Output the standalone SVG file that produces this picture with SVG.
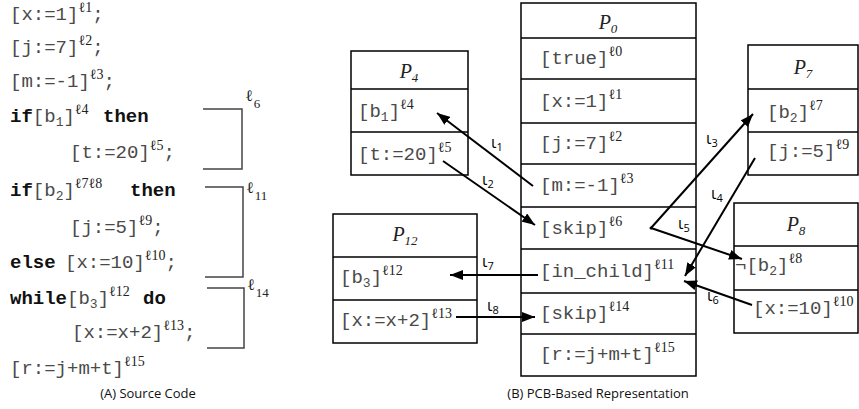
<svg xmlns="http://www.w3.org/2000/svg" width="859" height="409" viewBox="0 0 859 409">
<defs>
<style>
.box{fill:none;stroke:#000;stroke-width:1.5}
.m{font-family:"Liberation Mono","DejaVu Sans Mono",monospace;font-size:19px;fill:#4a4a4a}
.b{font-weight:bold;fill:#111}
.sup{font-family:"Liberation Serif","DejaVu Serif",serif;font-size:14px;fill:#222}
.sub{font-size:13px}
.hdr{font-family:"Liberation Serif","DejaVu Serif",serif;font-style:italic;font-size:20px;fill:#222}
.hs{font-size:13px}
.lbl{font-family:"Open Sans","DejaVu Sans",sans-serif;font-size:16px;fill:#000}
.ls{font-size:11px}
.cap{font-family:"Open Sans","DejaVu Sans",sans-serif;font-size:13px;fill:#111}
.conn{stroke:#000;stroke-width:2;fill:none;marker-end:url(#ah)}
.brk{stroke:#444;stroke-width:1.5;fill:none}
.bl{font-family:"Liberation Serif","DejaVu Serif",serif;font-size:16px;fill:#222}
</style>
<marker id="ah" markerUnits="userSpaceOnUse" markerWidth="13" markerHeight="10" refX="13" refY="5" orient="auto">
<path d="M0,0 L13,5 L0,10 z" fill="#000"/>
</marker>
</defs>

<g id="source-code">
<text class="m" x="10" y="20">[x:=1]<tspan class="sup" dy="-8">ℓ1</tspan><tspan dy="8">;</tspan></text>
<text class="m" x="10" y="53">[j:=7]<tspan class="sup" dy="-8">ℓ2</tspan><tspan dy="8">;</tspan></text>
<text class="m" x="10" y="87">[m:=-1]<tspan class="sup" dy="-8">ℓ3</tspan><tspan dy="8">;</tspan></text>
<text class="m" x="10" y="122"><tspan class="b">if</tspan>[b<tspan class="sub" dy="4">1</tspan><tspan dy="-4">]</tspan><tspan class="sup" dy="-8">ℓ4</tspan><tspan class="b" x="103" dy="8">then</tspan></text>
<text class="m" x="70" y="158">[t:=20]<tspan class="sup" dy="-8">ℓ5</tspan><tspan dy="8">;</tspan></text>
<text class="m" x="10" y="196"><tspan class="b">if</tspan>[b<tspan class="sub" dy="4">2</tspan><tspan dy="-4">]</tspan><tspan class="sup" dy="-8">ℓ7ℓ8</tspan><tspan class="b" x="130" dy="8">then</tspan></text>
<text class="m" x="70" y="233">[j:=5]<tspan class="sup" dy="-8">ℓ9</tspan><tspan dy="8">;</tspan></text>
<text class="m" x="10" y="268"><tspan class="b">else</tspan><tspan x="65">[x:=10]</tspan><tspan class="sup" dy="-8">ℓ10</tspan><tspan dy="8">;</tspan></text>
<text class="m" x="10" y="304"><tspan class="b">while</tspan>[b<tspan class="sub" dy="4">3</tspan><tspan dy="-4">]</tspan><tspan class="sup" dy="-8">ℓ12</tspan><tspan class="b" x="143" dy="8">do</tspan></text>
<text class="m" x="72" y="338">[x:=x+2]<tspan class="sup" dy="-8">ℓ13</tspan><tspan dy="8">;</tspan></text>
<text class="m" x="10" y="374">[r:=j+m+t]<tspan class="sup" dy="-8">ℓ15</tspan></text>
<path class="brk" d="M203,109 H242 V169 H203"/>
<text class="bl" x="245" y="101">ℓ<tspan dx="1" dy="7" font-size="13">6</tspan></text>
<path class="brk" d="M205,187 H243 V277 H205"/>
<text class="bl" x="246" y="193">ℓ<tspan dx="1" dy="7" font-size="13">11</tspan></text>
<path class="brk" d="M207,288 H244 V348 H207"/>
<text class="bl" x="247" y="290">ℓ<tspan dx="1" dy="7" font-size="13">14</tspan></text>
<text class="cap" x="148" y="398" text-anchor="middle">(A) Source Code</text>
</g>

<g id="P0">
<rect class="box" x="521" y="3" width="175" height="373"/>
<path class="box" d="M521,38 H696 M521,79 H696 M521,123 H696 M521,164 H696 M521,207 H696 M521,249 H696 M521,293 H696 M521,334 H696"/>
<text class="hdr" x="608" y="29" text-anchor="middle">P<tspan class="hs" dy="4">0</tspan></text>
<text class="m" x="540" y="64">[true]<tspan class="sup" dy="-8">ℓ0</tspan></text>
<text class="m" x="540" y="107">[x:=1]<tspan class="sup" dy="-8">ℓ1</tspan></text>
<text class="m" x="540" y="149">[j:=7]<tspan class="sup" dy="-8">ℓ2</tspan></text>
<text class="m" x="540" y="191">[m:=-1]<tspan class="sup" dy="-8">ℓ3</tspan></text>
<text class="m" x="540" y="234">[skip]<tspan class="sup" dy="-8">ℓ6</tspan></text>
<text class="m" x="540" y="277">[in_child]<tspan class="sup" dy="-8">ℓ11</tspan></text>
<text class="m" x="540" y="319">[skip]<tspan class="sup" dy="-8">ℓ14</tspan></text>
<text class="m" x="540" y="360">[r:=j+m+t]<tspan class="sup" dy="-8">ℓ15</tspan></text>
</g>

<g id="P4">
<rect class="box" x="351" y="51" width="117" height="124"/>
<path class="box" d="M351,89 H468 M351,132 H468"/>
<text class="hdr" x="409" y="78" text-anchor="middle">P<tspan class="hs" dy="4">4</tspan></text>
<text class="m" x="358" y="117">[b<tspan class="sub" dy="4">1</tspan><tspan dy="-4">]</tspan><tspan class="sup" dy="-8">ℓ4</tspan></text>
<text class="m" x="358" y="160">[t:=20]<tspan class="sup" dy="-8">ℓ5</tspan></text>
</g>

<g id="P7">
<rect class="box" x="748" y="45" width="110" height="130"/>
<path class="box" d="M748,89 H858 M748,132 H858"/>
<text class="hdr" x="803" y="74" text-anchor="middle">P<tspan class="hs" dy="4">7</tspan></text>
<text class="m" x="767" y="118">[b<tspan class="sub" dy="4">2</tspan><tspan dy="-4">]</tspan><tspan class="sup" dy="-8">ℓ7</tspan></text>
<text class="m" x="767" y="157">[j:=5]<tspan class="sup" dy="-8">ℓ9</tspan></text>
</g>

<g id="P8">
<rect class="box" x="734" y="203" width="124" height="130"/>
<path class="box" d="M734,246 H858 M734,290 H858"/>
<text class="hdr" x="796" y="231" text-anchor="middle">P<tspan class="hs" dy="4">8</tspan></text>
<text class="m" x="735" y="271">¬[b<tspan class="sub" dy="4">2</tspan><tspan dy="-4">]</tspan><tspan class="sup" dy="-8">ℓ8</tspan></text>
<text class="m" x="753" y="314">[x:=10]<tspan class="sup" dy="-8">ℓ10</tspan></text>
</g>

<g id="P12">
<rect class="box" x="333" y="214" width="144" height="129"/>
<path class="box" d="M333,257 H477 M333,300 H477"/>
<text class="hdr" x="405" y="241" text-anchor="middle">P<tspan class="hs" dy="4">12</tspan></text>
<text class="m" x="340" y="283">[b<tspan class="sub" dy="4">3</tspan><tspan dy="-4">]</tspan><tspan class="sup" dy="-8">ℓ12</tspan></text>
<text class="m" x="340" y="326">[x:=x+2]<tspan class="sup" dy="-8">ℓ13</tspan></text>
</g>

<g id="connectors">
<line class="conn" x1="533" y1="186" x2="437" y2="113"/>
<line class="conn" x1="443" y1="161" x2="535" y2="225"/>
<line class="conn" x1="651" y1="228" x2="753" y2="114"/>
<line class="conn" x1="755" y1="158" x2="685" y2="276"/>
<line class="conn" x1="651" y1="228" x2="742" y2="259"/>
<line class="conn" x1="752" y1="305" x2="684" y2="281"/>
<line class="conn" x1="538" y1="275" x2="450" y2="275"/>
<line class="conn" x1="456" y1="317" x2="535" y2="317"/>
<circle cx="651" cy="228" r="1.5" fill="#000"/>
<text class="lbl" x="491" y="148">ι<tspan class="ls" dy="3">1</tspan></text>
<text class="lbl" x="482" y="185">ι<tspan class="ls" dy="3">2</tspan></text>
<text class="lbl" x="706" y="144">ι<tspan class="ls" dy="3">3</tspan></text>
<text class="lbl" x="711" y="199">ι<tspan class="ls" dy="3">4</tspan></text>
<text class="lbl" x="678" y="229">ι<tspan class="ls" dy="3">5</tspan></text>
<text class="lbl" x="707" y="301">ι<tspan class="ls" dy="3">6</tspan></text>
<text class="lbl" x="482" y="267">ι<tspan class="ls" dy="3">7</tspan></text>
<text class="lbl" x="487" y="311">ι<tspan class="ls" dy="3">8</tspan></text>
</g>

<text class="cap" x="598" y="398" text-anchor="middle">(B) PCB-Based Representation</text>
</svg>
